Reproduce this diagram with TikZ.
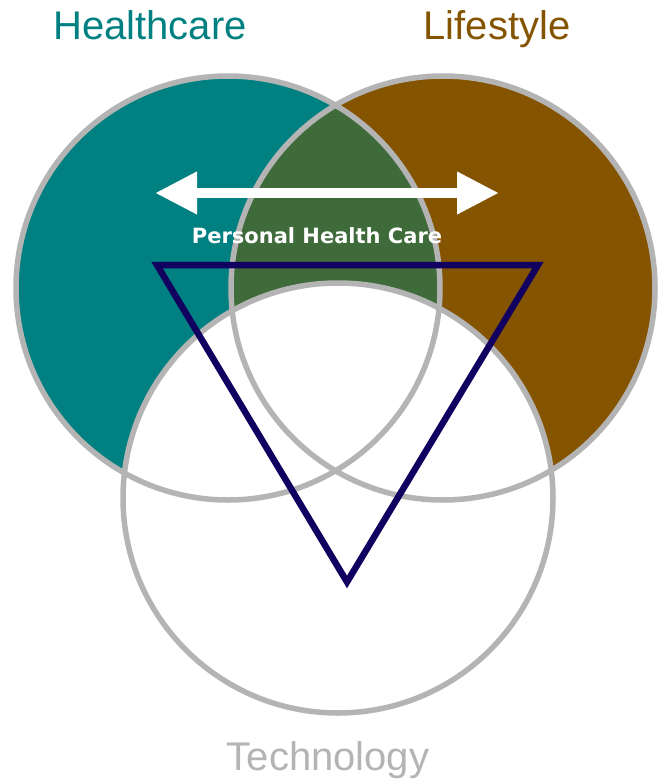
\documentclass[tikz,border=0pt]{standalone}
\usepackage{fontspec}
\setmainfont{Liberation Sans}
\newfontfamily\phcfont{DejaVu Sans}
\usetikzlibrary{arrows.meta, positioning}
\definecolor{hteal}{RGB}{0,128,128}
\definecolor{lbrown}{RGB}{132,84,0}
\definecolor{pgreen}{RGB}{63,107,58}
\definecolor{tgray}{RGB}{180,180,180}
\definecolor{tnavy}{RGB}{18,0,96}
\tikzset{
  ring/.style={draw=tgray, line width=5.5pt},
  title/.style={font=\fontsize{40}{48}\selectfont, inner sep=0pt, anchor=base},
  tri/.style={draw=tnavy, line width=6.5pt, line join=miter},
  dblarr/.style={white, line width=10pt,
    {Triangle[length=42pt,width=40pt]}-{Triangle[length=42pt,width=40pt]}},
}

\begin{document}
\begin{tikzpicture}[x=1pt, y=-1pt]
  \useasboundingbox (0,0) rectangle (657,781);

  %% Circle centres
  \coordinate (hc) at (228,288);
  \coordinate (lc) at (443,288);
  \coordinate (tc) at (338,498);

  %% Fills
  \fill[hteal]  (hc) circle (212);
  \fill[lbrown] (lc) circle (212);
  \begin{scope}
    \clip (hc) circle (212);
    \fill[pgreen] (lc) circle (212);
  \end{scope}
  \fill[white] (tc) circle (215);

  %% Outlines
  \draw[ring] (hc) circle (212);
  \draw[ring] (lc) circle (212);
  \draw[ring] (tc) circle (215);

  %% Titles
  \node[title, hteal]  (health) at (150,40)  {Healthcare};
  \node[title, lbrown] (life)   at (497,40)  {Lifestyle};
  \node[title, tgray]  (tech)   at (328,770) {Technology};

  %% Arrow and label
  \coordinate (arrL) at (155,193);
  \coordinate (arrR) at (499,193);
  \draw[dblarr] (arrL) -- (arrR);
  \node[font=\phcfont\bfseries\fontsize{21}{25}\selectfont, white,
        inner sep=0pt, anchor=base] (phc) at (317,243) {Personal Health Care};

  %% Triangle
  \coordinate (t1) at (157,265);
  \coordinate (t2) at (538,265);
  \coordinate (t3) at (347,582);
  \draw[tri] (t1) -- (t2) -- (t3) -- cycle;
\end{tikzpicture}
\end{document}
